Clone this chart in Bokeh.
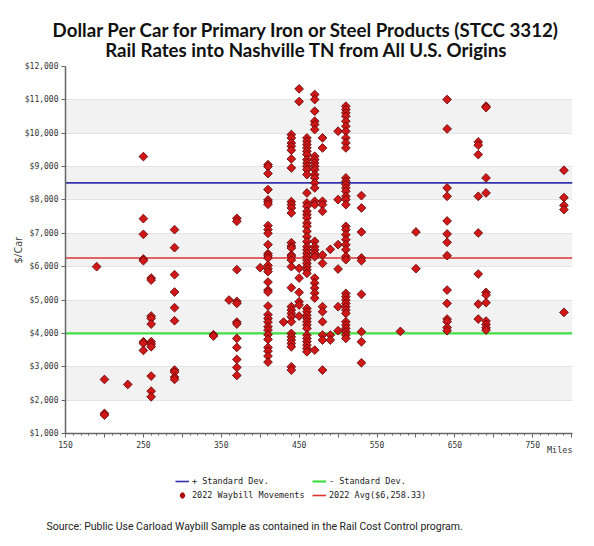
from bokeh.plotting import figure
from bokeh.layouts import column
from bokeh.models import (Range1d, FixedTicker, NumeralTickFormatter, Legend,
                          LegendItem, Title, Label)
from bokeh.embed import file_html
from bokeh.resources import INLINE
import numpy as np

title_lines = ["Dollar Per Car for Primary Iron or Steel Products (STCC 3312)",
               "Rail Rates into Nashville TN from All U.S. Origins"]
source_note = "Source: Public Use Carload Waybill Sample as contained in the Rail Cost Control program."
legend_labels = ["+ Standard Dev.", "- Standard Dev.",
                 "2022 Waybill Movements", "2022 Avg($6,258.33)"]

# miles of each column of points, and the $/car values found at that distance
col_miles = [190, 200, 230, 250, 260, 290, 340, 360, 370, 400, 410, 430, 440,
             450, 460, 470, 480, 490, 500, 510, 530, 580, 600, 640, 680, 690, 790]
col_rates = [
    [6000],
    [2620, 1600, 1550],
    [2470],
    [9300, 7440, 6970, 6230, 6180, 3750, 3700, 3490],
    [5660, 5600, 4520, 4450, 4280, 3750, 3680, 3600, 2720, 2270, 2100],
    [7110, 6570, 5760, 5240, 4770, 4380, 2900, 2840, 2690, 2620],
    [3960, 3920],
    [5000],
    [7450, 7360, 5910, 4960, 4900, 4340, 4280, 3850, 3580, 3220, 2980, 2740],
    [5970],
    [9060, 9000, 8790, 8310, 8000, 7940, 7870, 7230, 7110, 7000, 6660, 6390,
     6330, 6260, 6040, 5940, 5850, 5540, 5300, 5240, 4820, 4560, 4450, 4340,
     4200, 4100, 3960, 3820, 3580, 3470, 3320, 3140],
    [4340],
    [9960, 9860, 9710, 9610, 9490, 9230, 8960, 7950, 7860, 7760, 7610, 6720,
     6620, 6560, 6350, 6300, 6200, 6000, 5370, 4800, 4700, 4600, 4500, 4350,
     4000, 3900, 3800, 3700, 3600, 3000, 2900],
    [11330, 10950, 5950, 5660, 5230, 4950, 4850, 4520],
    [9860, 9760, 9660, 9560, 9460, 9360, 9210, 9110, 9010, 8910, 8760, 8210,
     7910, 7810, 7660, 7560, 7460, 7310, 7210, 7060, 6900, 6750, 6600, 6500,
     6400, 6300, 6200, 6100, 6000, 5900, 5800, 4750, 4650, 4550, 4450, 4350,
     4250, 4150, 3950, 3850, 3750, 3650, 3550, 3450],
    [11160, 11010, 10660, 10360, 10260, 10110, 9310, 9210, 9110, 9010, 8910,
     8760, 8660, 8510, 8360, 7960, 7860, 6760, 6600, 6500, 6400, 6300, 5660,
     5510, 5360, 5210, 5060, 3500],
    [9860, 9560, 7960, 7860, 7660, 6350, 6100, 4800, 4650, 4350, 3950, 3800, 2900],
    [6520, 3950, 3800],
    [10060, 8010, 6660, 5930, 4800, 4080],
    [10810, 10710, 10610, 10510, 10360, 10210, 10060, 9860, 9710, 9560, 8660,
     8560, 8460, 8360, 8260, 8110, 8010, 7860, 7210, 7110, 6960, 6810, 6660,
     6510, 6310, 6210, 5200, 5100, 5000, 4900, 4800, 4700, 4600, 4350, 4250,
     4150, 4050, 3950, 3850],
    [8130, 7760, 7040, 6260, 6180, 5170, 4050, 3750, 3120],
    [4060],
    [7040, 5940],
    [11010, 10130, 8360, 8110, 7370, 6980, 6730, 6330, 5300, 4900, 4430, 4350,
     4180, 4080],
    [9740, 9640, 9360, 8110, 7010, 5780, 4880, 4430],
    [10810, 10770, 8660, 8210, 5230, 5150, 4920, 4370, 4270, 4170, 4100],
    [8890, 8070, 7840, 7710, 4630],
]

avg_rate = 6258.33
std_dev = 2255.0

x_lo, x_hi = 150, 801
y_lo, y_hi = 1000, 12000
x_major = list(range(150, 801, 50))
x_minor = list(range(150, 801, 10))
y_ticks = list(range(1000, 12001, 1000))

miles = [m for m, rs in zip(col_miles, col_rates) for _ in rs]
rates = [r for rs in col_rates for r in rs]

W = 594
tick_font = "DejaVu Sans Mono"
plus_style = dict(line_color="#3333aa", line_width=1.6)
minus_style = dict(line_color="#44dd44", line_width=2.2)
avg_style = dict(line_color="#dd3333", line_width=1.6)
dot_style = dict(marker="square", angle=np.pi / 4, size=6.2,
                 fill_color="#d01818", line_color="#5a0000", line_width=0.8)


def blank(h):
    f = figure(width=W, height=h, x_range=Range1d(0, W), y_range=Range1d(0, h),
               x_axis_type=None, y_axis_type=None, toolbar_location=None,
               output_backend="svg", min_border=0, frame_align=False)
    f.outline_line_color = None
    f.grid.visible = False
    return f


# header with the two title lines
head = blank(60)
for txt, ty in zip(title_lines, [31, 11]):
    head.add_layout(Label(x=306, y=ty, text=txt, text_align="center",
                          text_baseline="middle", text_font="Lato",
                          text_font_style="bold", text_font_size="18.7px",
                          text_color="#111111"))

# main chart
p = figure(frame_width=507, frame_height=367, output_backend="svg",
           toolbar_location=None, frame_align=False,
           x_range=Range1d(x_lo, x_hi), y_range=Range1d(y_lo, y_hi),
           min_border_left=65, min_border_right=22, min_border_top=6,
           min_border_bottom=38)
p.outline_line_color = None

p.xgrid.grid_line_color = None
p.ygrid.ticker = FixedTicker(ticks=y_ticks)
p.ygrid.grid_line_color = "#e4e4e4"
p.ygrid.band_fill_color = "#f2f2f2"
p.ygrid.band_fill_alpha = 1.0

p.yaxis.ticker = FixedTicker(ticks=y_ticks)
p.yaxis.formatter = NumeralTickFormatter(format="$0,0")
p.yaxis.axis_label = "$/Car"
p.yaxis.axis_label_text_font = "Noto Sans"
p.yaxis.axis_label_text_font_style = "normal"
p.yaxis.axis_label_text_font_size = "10.5px"
p.yaxis.axis_label_standoff = -3

p.xaxis.ticker = FixedTicker(ticks=x_major, minor_ticks=x_minor)
p.xaxis.major_label_overrides = {t: "" for t in x_major if (t - 150) % 100}

for ax in (p.xaxis, p.yaxis):
    ax.axis_line_color = "#666666"
    ax.axis_line_width = 1.5
    ax.major_tick_line_color = "#666666"
    ax.minor_tick_line_color = "#666666"
    ax.major_tick_in = 0
    ax.major_tick_out = 4
    ax.minor_tick_in = 0
    ax.minor_tick_out = 2
    ax.major_label_text_font = tick_font
    ax.major_label_text_font_size = "8px"
    ax.major_label_text_color = "#333333"
    ax.major_label_standoff = 3
p.yaxis.minor_tick_line_color = None

p.line([x_lo, x_hi], [avg_rate + std_dev] * 2, **plus_style)
p.line([x_lo, x_hi], [avg_rate - std_dev] * 2, **minus_style)
p.line([x_lo, x_hi], [avg_rate] * 2, **avg_style)
p.scatter(miles, rates, **dot_style)

p.add_layout(Title(text="Miles", align="right", vertical_align="top",
                   standoff=-12, text_font=tick_font, text_font_style="normal",
                   text_font_size="8.5px", text_color="#333333"), "below")

# footer: legend and source note; the legend keys reuse the series values,
# which fall outside this strip's range so only the keys show
foot = blank(65)
k_plus = foot.line([x_lo, x_hi], [avg_rate + std_dev] * 2, **plus_style)
k_minus = foot.line([x_lo, x_hi], [avg_rate - std_dev] * 2, **minus_style)
k_dots = foot.scatter(miles, rates, marker="diamond", size=6,
                      fill_color="#d01818", line_color="#b00a0a", line_width=2.6)
k_avg = foot.line([x_lo, x_hi], [avg_rate] * 2, **avg_style)
legend = Legend(items=[LegendItem(label=t, renderers=[r]) for t, r in
                       zip(legend_labels, [k_plus, k_minus, k_dots, k_avg])],
                orientation="horizontal", ncols=2, location=(175, 35))
legend.label_text_font = tick_font
legend.label_text_font_size = "8.5px"
legend.label_text_color = "#222222"
legend.glyph_width = 14
legend.glyph_height = 12
legend.label_height = 12
legend.label_width = 118
legend.label_standoff = 3
legend.spacing = 2
legend.padding = 0
legend.margin = 0
legend.border_line_color = None
legend.background_fill_alpha = 0
foot.add_layout(legend, "center")

foot.add_layout(Label(x=46, y=10, text=source_note, text_align="left",
                      text_baseline="middle", text_font="Roboto",
                      text_font_size="10.5px", text_color="#222222"))

layout = column(head, p, foot, spacing=0)
open("out.html", "w").write(file_html(layout, INLINE))
